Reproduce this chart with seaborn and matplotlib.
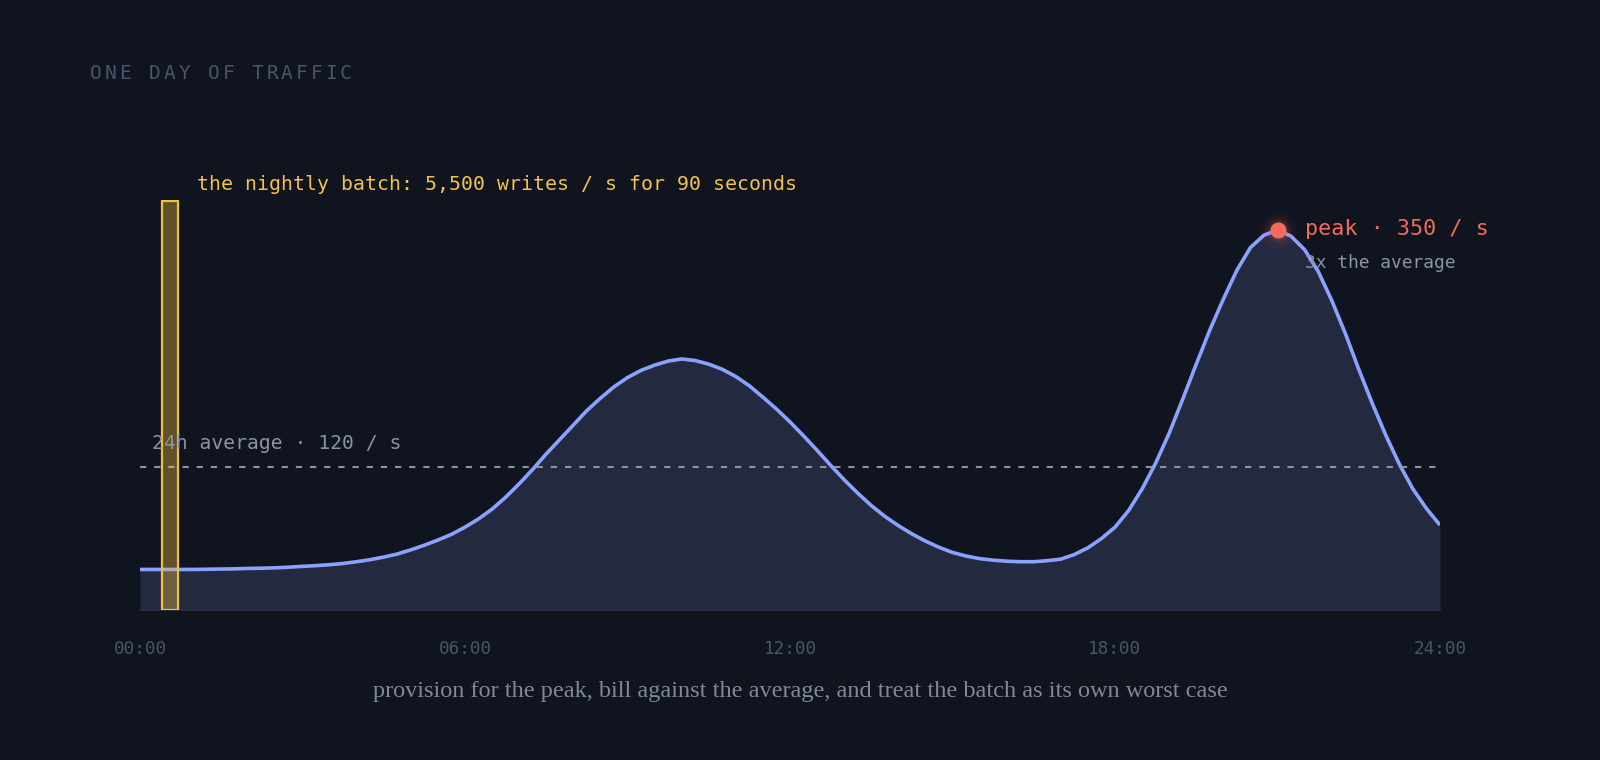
import matplotlib
matplotlib.use("Agg")
import matplotlib.pyplot as plt
import numpy as np
import pandas as pd
import seaborn as sns

# ---------------- data ----------------
# traffic sampled every 15 minutes, 00:00 .. 24:00
hours = list(np.arange(0, 24.01, 0.25))
rate = [21, 21, 21, 21, 21, 21.2, 21.4, 21.6, 22, 22.2, 22.6, 23.2,
        24, 24.7, 25.6, 26.8, 28.5, 30.5, 33, 36, 40, 44.5, 49.5, 55,
        62, 70, 79.5, 91, 104, 118, 133, 147, 161, 175, 187, 198,
        207, 214, 219, 223, 225, 223.5, 220, 215, 208, 199, 188, 176.5,
        164, 150.5, 136.5, 122, 108, 95, 83, 72.5, 63.5, 55.5, 48.5, 42.5,
        37.5, 34, 31.5, 30, 29, 28.5, 28.5, 29.5, 31, 35.5, 42, 51,
        62, 78, 99, 124, 153, 186, 220, 253, 283, 311, 333, 345,
        350, 344, 331, 310, 282, 250, 215, 182, 151, 123, 99, 80,
        64]

avg_rate = 120
peak_rate = 350
peak_hour = 21.0
batch_rate = 5500
batch_start = 0.4
batch_end = 0.7

tick_hours = [0, 6, 12, 18, 24]
tick_labels = ["00:00", "06:00", "12:00", "18:00", "24:00"]

title = "ONE DAY OF TRAFFIC"
batch_note = "the nightly batch: 5,500 writes / s for 90 seconds"
peak_note = "peak · 350 / s"
peak_sub = "3x the average"
avg_note = "24h average · 120 / s"
caption = "provision for the peak, bill against the average, and treat the batch as its own worst case"

# ---------------- style ----------------
BG = "#10141f"
FILL = "#232a40"
LINE = "#8aa2ff"
GOLD = "#f0c040"
CORAL = "#f26b5b"
MUTED = "#8b93a7"
DIM = "#4b5468"

sns.set_theme(style="dark", rc={
    "axes.facecolor": BG,
    "figure.facecolor": BG,
    "savefig.facecolor": BG,
    "axes.grid": False,
})
plt.rcParams["font.family"] = ["DejaVu Sans Mono", "DejaVu Sans"]

fig = plt.figure(figsize=(16, 7.6), dpi=100)
W, H = 1600, 760
ax = fig.add_axes([140 / W, 1 - 610 / H, 1300 / W, 410 / H])

YMIN, YMAX = -18.3, 379.1
ax.set_xlim(0, 24)
ax.set_ylim(YMIN, YMAX)

df = pd.DataFrame({"hour": hours, "rate": rate})

# area
ax.fill_between(df["hour"], df["rate"], YMIN, color=FILL, lw=0, zorder=1)
# curve
sns.lineplot(data=df, x="hour", y="rate", ax=ax, color=LINE, lw=2.6,
             zorder=3, solid_joinstyle="round", solid_capstyle="butt")

# average line
ax.axhline(avg_rate, color=MUTED, lw=1.5, ls=(0, (3.0, 3.8)), zorder=4)
ax.annotate(avg_note, xy=(0, avg_rate), xytext=(8.6, 17.5),
            textcoords="offset points", color=MUTED, fontsize=14.2,
            va="center", ha="left", zorder=8)

# nightly batch bar (capped to the visible range)
bar_h = min(batch_rate, YMAX - 0.8) - YMIN
ax.bar([(batch_start + batch_end) / 2], [bar_h], bottom=YMIN,
       width=batch_end - batch_start, color=GOLD, alpha=0.36, lw=0, zorder=5)
ax.bar([(batch_start + batch_end) / 2], [bar_h], bottom=YMIN,
       width=batch_end - batch_start, fill=False, edgecolor=GOLD,
       lw=1.6, zorder=5.5)
ax.annotate(batch_note, xy=(batch_end, YMAX), xytext=(13.7, 11.5),
            textcoords="offset points", color="#f2c14e", fontsize=14.3,
            va="center", ha="left", annotation_clip=False)

# peak marker
for s, a in [(700, 0.04), (420, 0.06), (250, 0.10)]:
    ax.scatter([peak_hour], [peak_rate], s=s, color=CORAL, alpha=a, lw=0,
               zorder=6, clip_on=False)
ax.scatter([peak_hour], [peak_rate], s=135, color=CORAL, lw=0, zorder=7,
           clip_on=False)
ax.annotate(peak_note, xy=(peak_hour, peak_rate), xytext=(19.5, 0.5),
            textcoords="offset points", color=CORAL, fontsize=15.7,
            va="center", ha="left", annotation_clip=False)
ax.annotate(peak_sub, xy=(peak_hour, peak_rate), xytext=(19.5, -23.8),
            textcoords="offset points", color=MUTED, fontsize=12.9,
            va="center", ha="left", annotation_clip=False)

# axes cosmetics
ax.set_xticks(tick_hours)
ax.set_xticklabels(tick_labels, color=DIM, fontsize=12.7)
ax.tick_params(axis="x", length=0, pad=21.5)
ax.set_yticks([])
ax.set_xlabel("")
ax.set_ylabel("")
for side in ["top", "left", "right"]:
    ax.spines[side].set_visible(False)
ax.spines["bottom"].set_color("#283048")
ax.spines["bottom"].set_linewidth(1.2)

# letter-spaced title
adv = 14.7
for i, ch in enumerate(title):
    fig.text((90 + i * adv) / W, 1 - 73.5 / H, ch, color=DIM, fontsize=14.0,
             ha="left", va="center")

# caption
fig.text(800 / W, 1 - 691 / H, caption, color="#7f879b", fontsize=17.5,
         family=["Liberation Serif", "DejaVu Serif"], ha="center", va="center")

fig.savefig("out.png", dpi=100)
